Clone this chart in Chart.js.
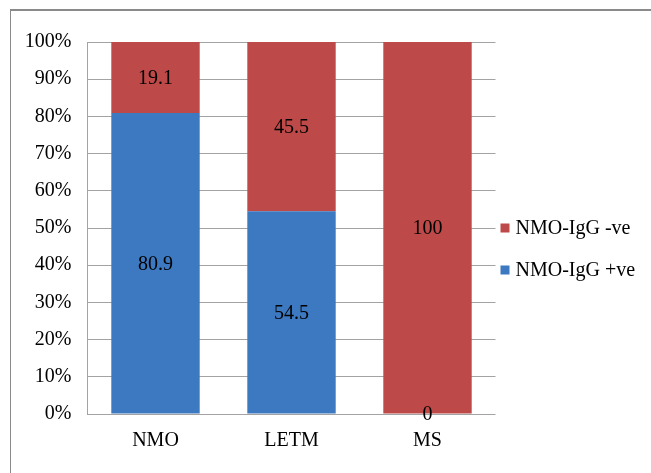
<!DOCTYPE html>
<html>
<head>
<meta charset="utf-8">
<script src="https://cdn.jsdelivr.net/npm/chart.js@4/dist/chart.umd.min.js"></script>
<style>
  html, body { margin: 0; padding: 0; background: #fff; overflow: hidden; }
  #wrap { position: relative; width: 651px; height: 473px; }
  #frame { position: absolute; left: 10px; top: 9px; width: 700px; height: 520px;
           border-top: 2px solid #8a8a8a; border-left: 1.5px solid #8a8a8a; box-sizing: border-box; }
  canvas { position: absolute; left: 0; top: 0; }
</style>
</head>
<body>
<div id="wrap">
  <div id="frame"></div>
  <canvas id="c" width="651" height="473"></canvas>
</div>
<script>
const categories = ['NMO', 'LETM', 'MS'];
const positiveLabel = 'NMO-IgG +ve';
const negativeLabel = 'NMO-IgG -ve';
const positiveValues = [80.9, 54.5, 0];
const negativeValues = [19.1, 45.5, 100];
const yTicks = [0, 10, 20, 30, 40, 50, 60, 70, 80, 90, 100];

const BLUE = '#3c79c0';
const RED = '#bd4a48';
const GRID = '#a3a3a3';
const FONT = { family: '"Liberation Serif", "Times New Roman", serif', size: 20 };

// Value text centred on each stacked segment
const segmentLabels = {
  id: 'segmentLabels',
  afterDatasetsDraw(chart) {
    const ctx = chart.ctx;
    ctx.save();
    ctx.font = `${FONT.size}px ${FONT.family}`;
    ctx.fillStyle = '#000';
    ctx.textAlign = 'center';
    ctx.textBaseline = 'middle';
    chart.data.datasets.forEach((ds, i) => {
      chart.getDatasetMeta(i).data.forEach((bar, j) => {
        const p = bar.getProps(['x', 'y', 'base'], true);
        ctx.fillText(String(ds.data[j]), p.x, (p.y + p.base) / 2 + 1);
      });
    });
    ctx.restore();
  }
};

// Legend at the right of the plot, top series listed first
const sideLegend = {
  id: 'sideLegend',
  afterDraw(chart) {
    const ctx = chart.ctx;
    const area = chart.chartArea;
    const items = chart.data.datasets.slice().reverse();
    const x0 = area.right + 5;
    const yStart = 228;
    const rowGap = 42;
    ctx.save();
    ctx.font = `${FONT.size}px ${FONT.family}`;
    ctx.textBaseline = 'middle';
    ctx.textAlign = 'left';
    items.forEach((ds, k) => {
      const y = yStart + k * rowGap;
      ctx.fillStyle = ds.backgroundColor;
      ctx.fillRect(x0, y - 4.5, 9, 9);
      ctx.fillStyle = '#000';
      ctx.fillText(ds.label, x0 + 15, y + 1);
    });
    ctx.restore();
  }
};

new Chart(document.getElementById('c'), {
  type: 'bar',
  data: {
    labels: categories,
    datasets: [
      { label: positiveLabel, data: positiveValues, backgroundColor: BLUE },
      { label: negativeLabel, data: negativeValues, backgroundColor: RED }
    ]
  },
  options: {
    responsive: false,
    animation: false,
    layout: { padding: { top: 42, right: 155.5, bottom: 0, left: 0 } },
    datasets: { bar: { categoryPercentage: 1, barPercentage: 0.65 } },
    plugins: { legend: { display: false }, tooltip: { enabled: false } },
    scales: {
      x: {
        stacked: true,
        grid: { display: false },
        border: { display: false },
        ticks: { color: '#000', font: FONT, padding: 7 },
        afterFit(s) { s.height = 59; }
      },
      y: {
        stacked: true,
        min: 0,
        max: 100,
        afterBuildTicks(s) { s.ticks = yTicks.map(v => ({ value: v })); },
        ticks: { color: '#000', font: FONT, padding: 16, callback: v => v + '%' },
        grid: { color: GRID, lineWidth: 1, drawTicks: false },
        border: { display: true, color: GRID, width: 1 },
        afterFit(s) { s.width = 87.5; }
      }
    }
  },
  plugins: [segmentLabels, sideLegend]
});
</script>
</body>
</html>
